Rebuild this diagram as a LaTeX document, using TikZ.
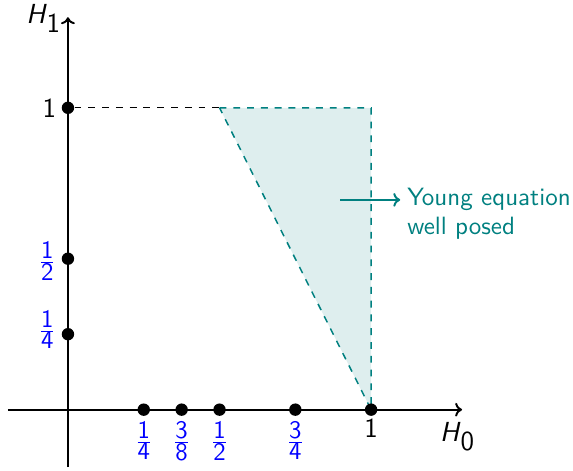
\documentclass[tikz,border=0pt]{standalone}
\usetikzlibrary{arrows.meta}
\renewcommand{\familydefault}{\sfdefault}
\newcommand{\sH}{\textsf{\textit{H}}}
\newcommand{\sfr}[2]{$\frac{\textsf{#1}}{\textsf{#2}}$}
\begin{document}
\begin{tikzpicture}[x=4.64cm,y=4.62cm,
  axis/.style={line width=0.85pt,-{To[length=3pt,width=6pt]}},
  pt/.style={circle,fill=black,inner sep=0pt,minimum size=5.4pt},
  frac/.style={text=blue,inner sep=2pt,font=\fontsize{11}{13}\selectfont},
  teallab/.style={text=teal,font=\fontsize{10.9}{12.8}\selectfont,align=left,inner sep=0pt}]
\useasboundingbox (-1.04cm,-0.933cm) rectangle (7.73cm,6.27cm);
% region
\coordinate (A) at (0.5,1);
\coordinate (B) at (1,1);
\coordinate (C) at (1,0);
\fill[teal!13] (A) -- (B) -- (C) -- cycle;
\draw[teal,dashed,line width=0.65pt] (A) -- (B) -- (C) -- cycle;
% axes
\coordinate (xs) at (-0.198,0);
\coordinate (xe) at (1.30,0);
\coordinate (ys) at (0,-0.19);
\coordinate (ye) at (0,1.30);
\draw[axis] (xs) -- (xe);
\draw[axis] (ys) -- (ye);
\node[anchor=east,inner sep=2pt,font=\large] (h1) at (-0.005,1.295) {\sH$_{\textsf{1}}$};
\node[anchor=north east,inner sep=2pt,font=\large] (h0) at (1.36,-0.025) {\sH$_{\textsf{0}}$};
% dots
\node[pt] (y1) at (0,1) {};
\node[pt] (yh) at (0,0.5) {};
\node[pt] (yq) at (0,0.25) {};
\node[pt] (xq) at (0.25,0) {};
\node[pt] (x38) at (0.375,0) {};
\node[pt] (xh) at (0.5,0) {};
\node[pt] (x34) at (0.75,0) {};
\node[pt] (x1) at (1,0) {};
\draw[dashed,line width=0.6pt] (y1) -- (A);
% labels
\node[anchor=east,inner sep=2pt] at (y1.west) {\large 1};
\node[anchor=north,inner sep=1pt] at (x1.south) {\large 1};
\node[frac,anchor=east] at ([yshift=-1pt]yh.west) {\sfr{1}{2}};
\node[frac,anchor=east] at ([yshift=2pt]yq.west) {\sfr{1}{4}};
\node[frac,anchor=north] at (xq.south) {\sfr{1}{4}};
\node[frac,anchor=north] at (x38.south) {\sfr{3}{8}};
\node[frac,anchor=north] at (xh.south) {\sfr{1}{2}};
\node[frac,anchor=north] at (x34.south) {\sfr{3}{4}};
% annotation
\coordinate (as) at (0.898,0.695);
\node[teallab,anchor=west] (note) at (1.118,0.649) {Young equation\\well posed};
\coordinate (ae) at (1.096,0.695);
\draw[teal,line width=0.85pt,-{To[length=3pt,width=6pt]}] (as) -- (ae);
\end{tikzpicture}
\end{document}
